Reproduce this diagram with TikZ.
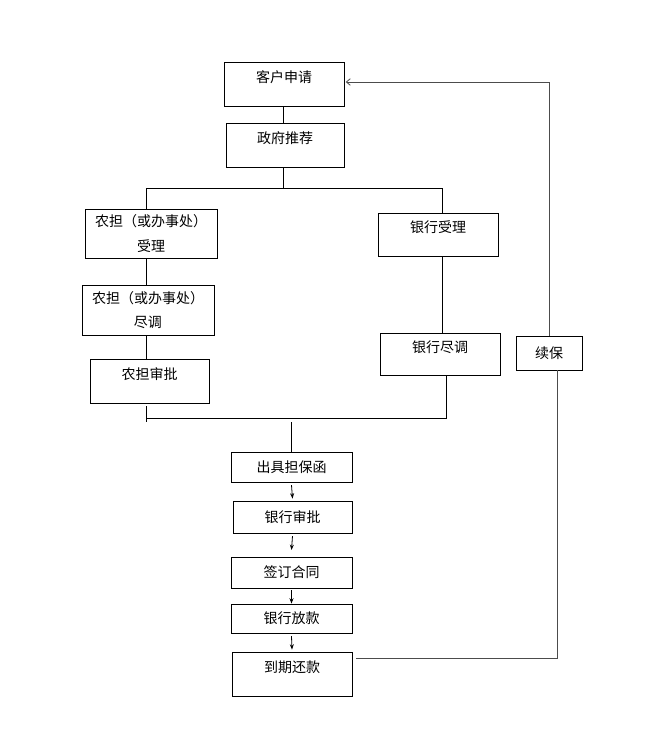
\documentclass[tikz,border=0pt]{standalone}
\usepackage{fontspec}
\newfontfamily\cjk{Noto Sans CJK SC}
\usetikzlibrary{arrows.meta}
\begin{document}
\begin{tikzpicture}[x=0.75pt, y=-0.75pt, >=latex, line width=0.6pt,
  box/.style={draw, font=\cjk\fontsize{10.5}{18.5}\selectfont, align=center, inner sep=0pt},
  hi/.style={text height=8pt, text depth=11pt},
  loopline/.style={black!70},
  arr/.style={-{Stealth[length=4pt,width=3pt]}}]
\useasboundingbox (0,0) rectangle (646,729);
\node[box, hi, minimum width=90pt, minimum height=33pt] (apply) at (284,84) {客户申请};
\node[box, hi, minimum width=88.5pt, minimum height=33pt] (gov) at (285,145) {政府推荐};
\node[box, minimum width=99pt, minimum height=36.75pt] (ndAccept) at (151,233.5) {农担（或办事处）\\受理};
\node[box, hi, minimum width=90pt, minimum height=32.25pt] (bankAccept) at (438,234.5) {银行受理};
\node[box, minimum width=99pt, minimum height=37.5pt] (ndCheck) at (148,310) {农担（或办事处）\\尽调};
\node[box, hi, minimum width=89.25pt, minimum height=33pt] (ndApprove) at (149.5,381) {农担审批};
\node[box, hi, minimum width=90pt, minimum height=31.5pt] (bankCheck) at (440,354) {银行尽调};
\node[box, minimum width=49.5pt, minimum height=25.5pt] (renew) at (549,353) {续保};
\node[box, minimum width=90.75pt, minimum height=22.5pt] (letter) at (291.5,467) {出具担保函};
\node[box, minimum width=89.25pt, minimum height=24pt] (bankApprove) at (292.5,517) {银行审批};
\node[box, minimum width=90.75pt, minimum height=23.25pt] (sign) at (291.5,572.5) {签订合同};
\node[box, minimum width=90.75pt, minimum height=21.75pt] (loan) at (291.5,618.5) {银行放款};
\node[box, hi, minimum width=90pt, minimum height=33pt] (repay) at (292,674) {到期还款};

\coordinate (splitL) at (146,188);
\coordinate (splitR) at (442,188);
\coordinate (joinL) at (146,418);
\coordinate (joinR) at (446,418);
\coordinate (loopB) at (557,658);
\coordinate (loopT) at (548,82);

\draw (apply.south -| 283,0) -- (gov.north -| 283,0);
\draw (gov.south -| 283,0) -- (splitL -| 283,0);
\draw (splitL) -- (splitR);
\draw (splitL) -- (splitL |- ndAccept.north);
\draw (splitR) -- (splitR |- bankAccept.north);
\draw (ndAccept.south -| splitL) -- (ndCheck.north -| splitL);
\draw (ndCheck.south -| splitL) -- (ndApprove.north -| splitL);
\draw (bankAccept.south -| splitR) -- (bankCheck.north -| splitR);
\draw (bankCheck.south -| joinR) -- (joinR) -- (joinL);
\draw ([yshift=9pt]joinL) -- ([yshift=-3pt]joinL);
\draw ([yshift=-3pt]joinL -| letter) -- (letter.north);
\draw[arr] ([yshift=-2pt]letter.south) -- ([yshift=1.5pt]bankApprove.north);
\draw[arr] ([yshift=-2pt]bankApprove.south) -- ([yshift=5pt]sign.north);
\draw[arr] ([yshift=-1.5pt]sign.south) -- (loan.north);
\draw[arr] ([yshift=-2pt]loan.south) -- ([yshift=1.5pt]repay.north);

\draw[loopline] ([xshift=3pt]repay.east |- loopB) -- (loopB) -- (loopB |- renew.south);
\draw[loopline, -{Straight Barb[length=3pt,width=5pt]}] (renew.north) -- (renew.north |- loopT) -- ([xshift=1pt]apply.east |- loopT);
\end{tikzpicture}
\end{document}
